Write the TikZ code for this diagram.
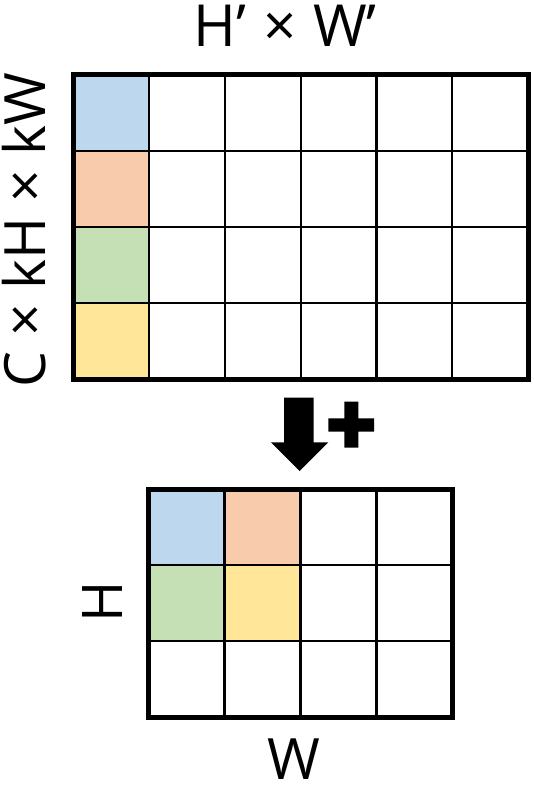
\documentclass[tikz,border=0pt]{standalone}
\usepackage{fontspec}
\setmainfont{Open Sans}
\definecolor{cblue}{HTML}{BDD7EE}
\definecolor{corange}{HTML}{F8CBAD}
\definecolor{cgreen}{HTML}{C5E0B4}
\definecolor{cyellow}{HTML}{FFE699}
\begin{document}
\begin{tikzpicture}[x=1pt,y=-1pt,
  inner/.style={line width=2.4pt,black},
  outer/.style={line width=5pt,black},
  lbl/.style={font=\fontsize{56}{60}\selectfont,inner sep=0pt,anchor=base}]
\useasboundingbox[fill=white] (0,0) rectangle (533,789);
% ---- top grid: 6 x 4, from (73.5,75) to (528,379)
\fill[cblue]   (73.5,75)  rectangle (149.25,151);
\fill[corange] (73.5,151) rectangle (149.25,227);
\fill[cgreen]  (73.5,227) rectangle (149.25,303);
\fill[cyellow] (73.5,303) rectangle (149.25,379);
\foreach \i in {1,...,5} \draw[inner] ({73.5+\i*75.75},75) -- ({73.5+\i*75.75},379);
\foreach \j in {1,...,3} \draw[inner] (73.5,{75+\j*76}) -- (528,{75+\j*76});
\draw[outer] (73.5,75) rectangle (528,379);
% ---- bottom grid: 4 x 3, from (148.7,489) to (452.3,717)
\fill[cblue]   (148.7,489) rectangle (224.6,565);
\fill[corange] (224.6,489) rectangle (300.5,565);
\fill[cgreen]  (148.7,565) rectangle (224.6,641);
\fill[cyellow] (224.6,565) rectangle (300.5,641);
\foreach \i in {1,...,3} \draw[inner] ({148.7+\i*75.9},489) -- ({148.7+\i*75.9},717);
\foreach \j in {1,2} \draw[inner] (148.7,{489+\j*76}) -- (452.3,{489+\j*76});
\draw[outer] (148.7,489) rectangle (452.3,717);
% ---- arrow and plus
\fill[black] (284,397.7) -- (313.5,397.7) -- (313.5,442.3) -- (328.3,442.3) -- (299.5,471) -- (271,442.3) -- (284,442.3) -- cycle;
\fill[black] (344.3,401.7) -- (358.3,401.7) -- (358.3,418.3) -- (374,418.3) -- (374,431.7) -- (358.3,431.7) -- (358.3,447.7) -- (344.3,447.7) -- (344.3,431.7) -- (328.3,431.7) -- (328.3,418.3) -- (344.3,418.3) -- cycle;
% ---- labels
\node[lbl,font=\fontsize{58}{62}\selectfont] (top) at (285,47) {H’\hspace{3pt} × \hspace{1pt}W’};
\node[lbl,font=\fontsize{57}{62}\selectfont,rotate=90] (left) at (45,230) {C × kH × kW};
\node[lbl,rotate=90] (hl) at (122,601.5) {H};
\node[lbl,font=\fontsize{57}{62}\selectfont] (wl) at (293.7,779) {W};
\end{tikzpicture}
\end{document}
